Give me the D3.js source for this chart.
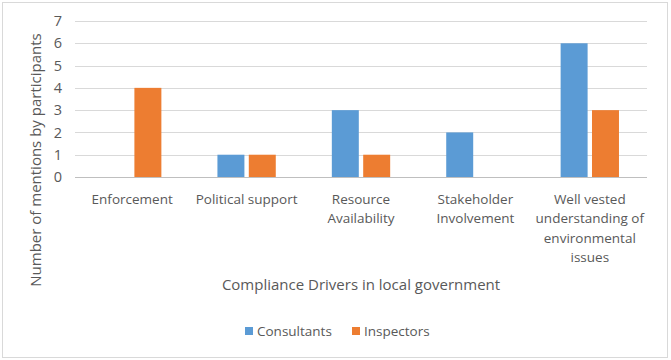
<!DOCTYPE html>
<html>
<head>
<meta charset="utf-8">
<script src="https://cdn.jsdelivr.net/npm/d3@7"></script>
<style>
  body { margin: 0; background: #fff; }
  text { font-family: "Open Sans", sans-serif; fill: #595959; }
</style>
</head>
<body>
<div id="chart"></div>
<script>
const width = 671, height = 360;
const margin = {top: 21, right: 24, bottom: 183, left: 75};

// data
const categories = [
    ["Enforcement"],
    ["Political support"],
    ["Resource", "Availability"],
    ["Stakeholder", "Involvement"],
    ["Well vested", "understanding of", "environmental", "issues"]
];
const seriesNames = ["Consultants", "Inspectors"];
const consultants = [0, 1, 3, 2, 6];
const inspectors = [4, 1, 1, 0, 3];
const yTicks = [0, 1, 2, 3, 4, 5, 6, 7];
const colors = ["#5B9BD5", "#ED7D31"];

const seriesValues = [consultants, inspectors];

let svg = d3.select("#chart")
    .append("svg")
    .attr("width", width)
    .attr("height", height);

// outer chart border
svg.append("rect")
    .attr("x", 2.5).attr("y", 2.5)
    .attr("width", width - 6).attr("height", height - 5)
    .attr("fill", "none")
    .attr("stroke", "#D9D9D9");

let innerW = width - margin.left - margin.right;
let innerH = height - margin.top - margin.bottom;

let g = svg.append("g")
    .attr("transform", `translate(${margin.left}, ${margin.top})`);

let x0 = d3.scaleBand()
    .domain(d3.range(categories.length))
    .range([0, innerW]);

let groupW = x0.bandwidth() * 0.51;
let x1 = d3.scaleBand()
    .domain(seriesNames)
    .range([(x0.bandwidth() - groupW) / 2, (x0.bandwidth() + groupW) / 2])
    .paddingInner(0.14);

let y = d3.scaleLinear()
    .domain([0, 7])
    .range([innerH, 0]);

// gridlines
g.append("g")
    .selectAll("line")
    .data(yTicks)
    .enter()
    .append("line")
    .attr("x1", 0)
    .attr("x2", innerW)
    .attr("y1", d => Math.round(y(d)) + 0.5)
    .attr("y2", d => Math.round(y(d)) + 0.5)
    .attr("stroke", d => d === 0 ? "#BFBFBF" : "#D9D9D9")
    .attr("stroke-width", 1);

// y tick labels
g.append("g")
    .selectAll("text")
    .data(yTicks)
    .enter()
    .append("text")
    .attr("x", -13)
    .attr("y", d => y(d))
    .attr("dy", "0.35em")
    .style("text-anchor", "end")
    .style("font-size", "14.5px")
    .text(d => d);

// bars
seriesNames.forEach(function(name, si) {
    g.append("g")
        .selectAll("rect")
        .data(seriesValues[si])
        .enter()
        .append("rect")
        .attr("x", (d, i) => x0(i) + x1(name))
        .attr("y", d => y(d))
        .attr("width", x1.bandwidth())
        .attr("height", d => y(0) - y(d))
        .attr("fill", colors[si]);
});

// category labels
let catLabels = g.append("g")
    .selectAll("text")
    .data(categories)
    .enter()
    .append("text")
    .attr("x", (d, i) => x0(i) + x0.bandwidth() / 2)
    .attr("y", innerH + 27)
    .style("text-anchor", "middle")
    .style("font-size", "13.5px");

catLabels.selectAll("tspan")
    .data(d => d)
    .enter()
    .append("tspan")
    .attr("x", function() { return d3.select(this.parentNode).attr("x"); })
    .attr("dy", (d, i) => i === 0 ? 0 : 19.3)
    .text(d => d);

// x axis title
svg.append("text")
    .attr("x", margin.left + innerW / 2)
    .attr("y", 290)
    .style("text-anchor", "middle")
    .style("font-size", "15px")
    .text("Compliance Drivers in local government");

// y axis title
svg.append("text")
    .attr("transform", `translate(41, 160) rotate(-90)`)
    .style("text-anchor", "middle")
    .style("font-size", "15px")
    .text("Number of mentions by participants");

// legend
let legendX = [245, 352];
let legend = svg.append("g")
    .selectAll("g")
    .data(seriesNames)
    .enter()
    .append("g")
    .attr("transform", (d, i) => `translate(${legendX[i]}, 327)`);

legend.append("rect")
    .attr("width", 8)
    .attr("height", 8)
    .attr("fill", (d, i) => colors[i]);

legend.append("text")
    .attr("x", 12)
    .attr("y", 4)
    .attr("dy", "0.35em")
    .style("font-size", "13.5px")
    .text(d => d);
</script>
</body>
</html>
